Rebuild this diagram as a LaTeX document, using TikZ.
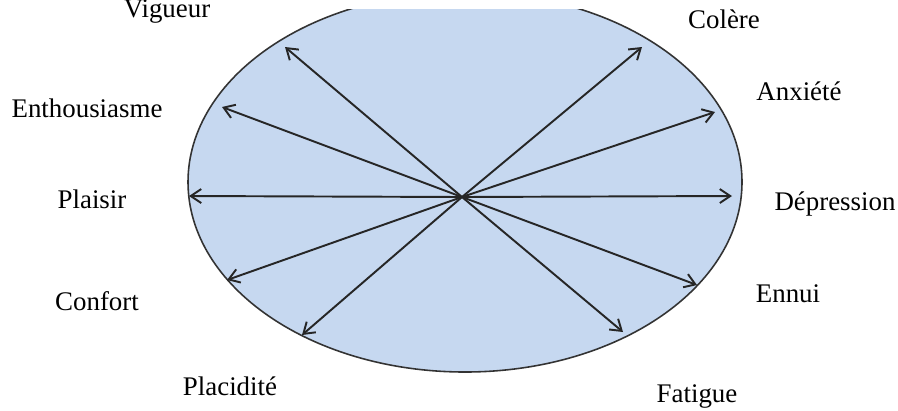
\documentclass[tikz,border=0pt]{standalone}
\usepackage{fontspec}
\setmainfont{Liberation Serif}
\usetikzlibrary{arrows.meta}
\definecolor{moodblue}{RGB}{198,216,240}

\begin{document}
\begin{tikzpicture}[x=0.2mm, y=-0.2mm,
  mood/.style={anchor=base, inner sep=0pt, font=\fontsize{15.3}{18}\selectfont},
  arr/.style={-{Straight Barb[length=2.1mm, width=2.8mm]}, line width=1.1pt, draw=black!85}
]
  \useasboundingbox (0,0) rectangle (898,410);

  % ellipse, top cut by the page edge
  \begin{scope}
    \clip (0,9) rectangle (898,410);
    \draw[fill=moodblue, line width=0.9pt, draw=black!80] (465,182) ellipse [x radius=277, y radius=190];
  \end{scope}

  \coordinate (c) at (462,197);

  % arrow ends
  \coordinate (vig) at (285,47);
  \coordinate (ent) at (222,107);
  \coordinate (pla) at (189,196);
  \coordinate (con) at (227,280);
  \coordinate (plc) at (302,335);
  \coordinate (col) at (642,47);
  \coordinate (anx) at (715,112);
  \coordinate (dep) at (732,196);
  \coordinate (enn) at (697,285);
  \coordinate (fat) at (623,332);

  \draw[arr] (c) -- (vig);
  \draw[arr] (c) -- (ent);
  \draw[arr] (c) -- (pla);
  \draw[arr] (c) -- (con);
  \draw[arr] (c) -- (plc);
  \draw[arr] (c) -- (col);
  \draw[arr] (c) -- (anx);
  \draw[arr] (c) -- (dep);
  \draw[arr] (c) -- (enn);
  \draw[arr] (c) -- (fat);

  % labels
  \node[mood] (lvig) at (167,17)  {Vigueur};
  \node[mood] (lent) at (87,117)  {Enthousiasme};
  \node[mood] (lpla) at (92,208)  {Plaisir};
  \node[mood] (lcon) at (97,310)  {Confort};
  \node[mood] (lplc) at (230,395) {Placidité};
  \node[mood] (lcol) at (724,28)  {Colère};
  \node[mood] (lanx) at (799,100) {Anxiété};
  \node[mood] (ldep) at (835,210) {Dépression};
  \node[mood] (lenn) at (788,302) {Ennui};
  \node[mood] (lfat) at (697,402) {Fatigue};
\end{tikzpicture}
\end{document}
